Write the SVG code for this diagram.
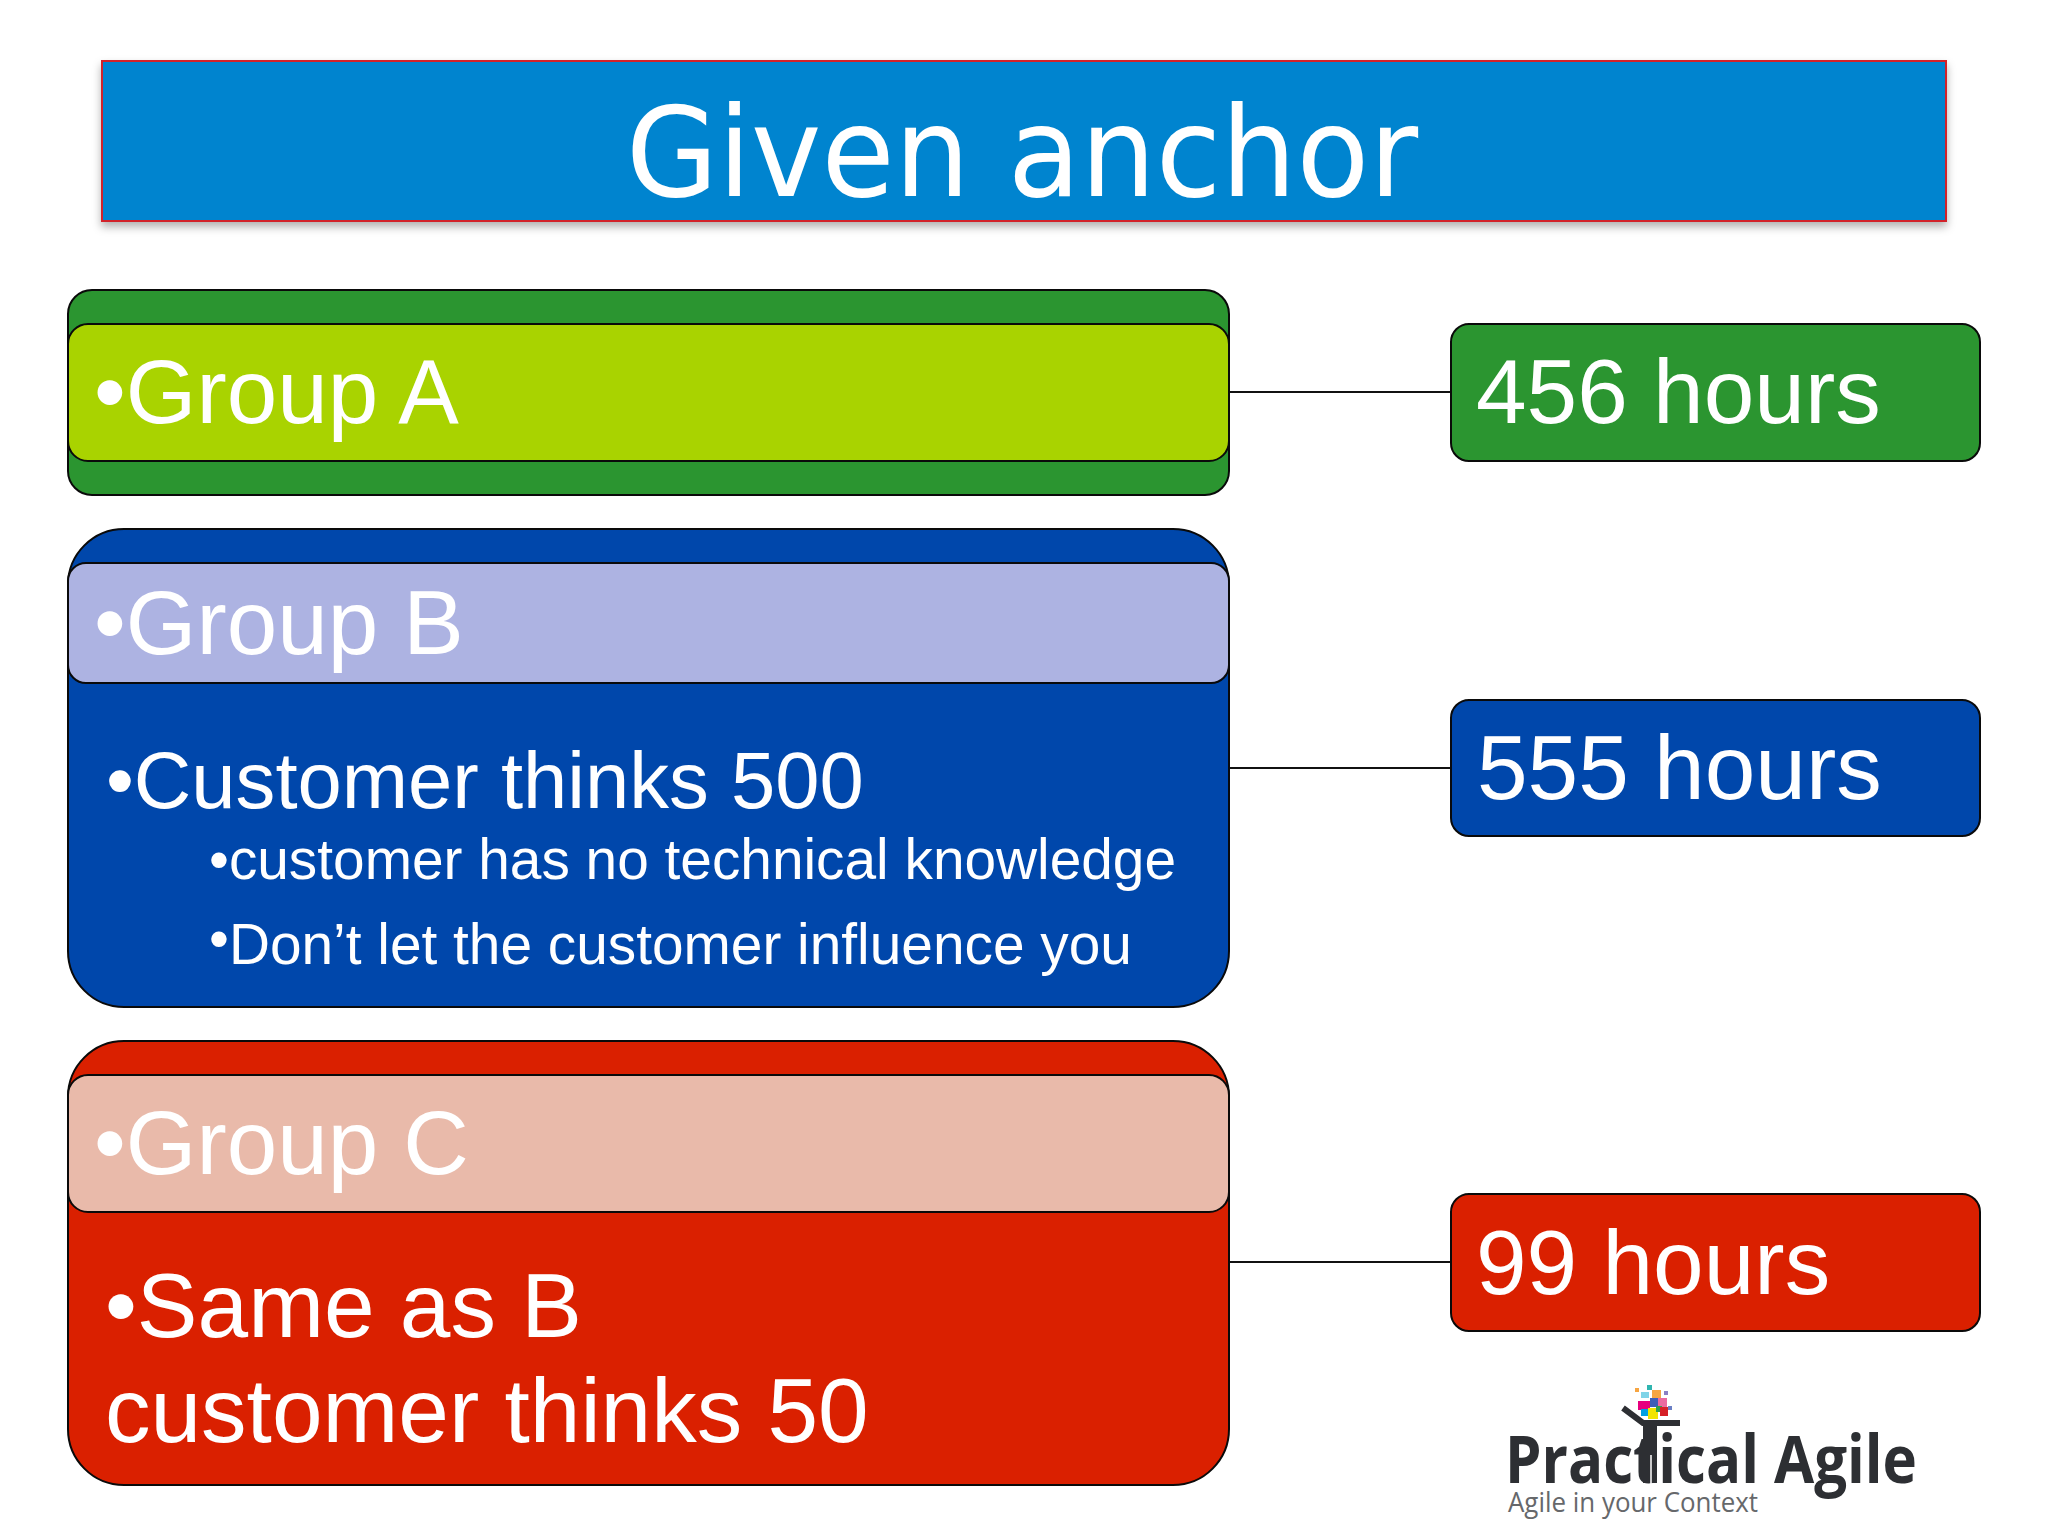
<svg xmlns="http://www.w3.org/2000/svg" width="2048" height="1536" viewBox="0 0 2048 1536">
<defs>
<filter id="sh" x="-5%" y="-20%" width="110%" height="140%"><feDropShadow dx="0" dy="5" stdDeviation="4" flood-color="#000" flood-opacity="0.3"/></filter>
</defs>
<style>
.box{stroke:#0a0a0a;stroke-width:2}
.t{fill:#fff;font-family:"Liberation Sans",Arial,sans-serif}
.lg{font-size:90.8px}
.lg2{font-size:91px}
.md{font-size:79.6px}
.sm{font-size:56.8px}
.hr{font-size:91px}
.line{stroke:#111;stroke-width:2;fill:none}
</style>
<rect width="2048" height="1536" fill="#fff"/>
<g id="title">
<rect x="102" y="61" width="1844" height="160" fill="#0084cf" stroke="#d2232a" stroke-width="2" filter="url(#sh)"/>
<text x="626" y="196" fill="#fff" font-family="'DejaVu Sans',sans-serif" font-size="125" textLength="792" lengthAdjust="spacingAndGlyphs">Given anchor</text>
</g>
<g id="connectors">
<path class="line" d="M1229 392H1451"/>
<path class="line" d="M1229 768H1451"/>
<path class="line" d="M1229 1262H1451"/>
</g>
<g id="group-a">
<rect class="box" x="68" y="290" width="1161" height="205" rx="24" fill="#2b9530"/>
<rect class="box" x="68" y="324" width="1161" height="137" rx="20" fill="#a9d300"/>
<text class="t lg" x="94" y="423">•Group A</text>
</g>
<g id="group-b">
<rect class="box" x="68" y="529" width="1161" height="478" rx="56" fill="#0047ab"/>
<rect class="box" x="68" y="563" width="1161" height="120" rx="18" fill="#adb3e2"/>
<text class="t lg" x="94" y="654">•Group B</text>
<text class="t md" x="106" y="808">•Customer thinks 500</text>
<text class="t sm" x="209" y="879">•customer has no technical knowledge</text>
<text class="t sm" x="209" y="964"><tspan dy="-6">•</tspan><tspan dy="6">Don’t let the customer influence you</tspan></text>
</g>
<g id="group-c">
<rect class="box" x="68" y="1041" width="1161" height="444" rx="56" fill="#da2000"/>
<rect class="box" x="68" y="1075" width="1161" height="137" rx="20" fill="#e9baaa"/>
<text class="t lg" x="94" y="1174">•Group C</text>
<text class="t lg2" x="105" y="1337">•Same as B</text>
<text class="t lg2" x="105" y="1442">customer thinks 50</text>
</g>
<g id="hours-456">
<rect class="box" x="1451" y="324" width="529" height="137" rx="18" fill="#2b9530"/>
<text class="t hr" x="1476" y="423">456 hours</text>
</g>
<g id="hours-555">
<rect class="box" x="1451" y="700" width="529" height="136" rx="18" fill="#0047ab"/>
<text class="t hr" x="1477" y="799">555 hours</text>
</g>
<g id="hours-99">
<rect class="box" x="1451" y="1194" width="529" height="137" rx="18" fill="#da2000"/>
<text class="t hr" x="1476" y="1294">99 hours</text>
</g>
<g id="logo">
<text x="1505" y="1483" font-family="'Open Sans',sans-serif" font-weight="700" font-size="67" fill="#2d2f33" textLength="412" lengthAdjust="spacingAndGlyphs">Practical Agile</text>
<text x="1508" y="1512" font-family="'Open Sans',sans-serif" font-size="28" fill="#66686b" textLength="250" lengthAdjust="spacingAndGlyphs">Agile in your Context</text>
<g>
<rect x="1635" y="1388" width="4" height="4" fill="#f7a541"/><rect x="1647" y="1385" width="5" height="5" fill="#2fb5b0"/><rect x="1641" y="1392" width="8" height="6" fill="#7fd4e8"/>
<rect x="1652" y="1390" width="9" height="9" fill="#f7a541"/><rect x="1664" y="1391" width="4" height="4" fill="#8a7fc4"/><rect x="1650" y="1398" width="9" height="9" fill="#3d5fb8"/>
<rect x="1638" y="1401" width="12" height="9" fill="#e6007e"/><rect x="1641" y="1409" width="9" height="7" fill="#00a0e3"/><rect x="1648" y="1408" width="10" height="11" fill="#f2e500"/>
<rect x="1658" y="1398" width="9" height="9" fill="#ea6aa0"/><rect x="1656" y="1406" width="6" height="6" fill="#2e9e4f"/><rect x="1660" y="1407" width="8" height="9" fill="#d62027"/><rect x="1668" y="1406" width="4" height="4" fill="#6a7fc4"/>
</g>
<path d="M1623 1408L1643 1423H1680" fill="none" stroke="#2d2f33" stroke-width="6"/>
<path d="M1643 1423H1657V1483H1643Z" fill="#2d2f33"/>
<path d="M1651 1455V1484" stroke="#fff" stroke-width="1.5"/>
</g>
</svg>
